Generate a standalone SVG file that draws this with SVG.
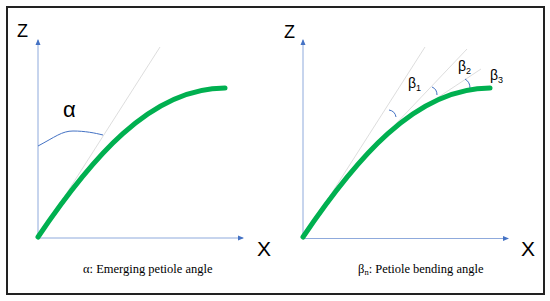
<svg xmlns="http://www.w3.org/2000/svg" width="550" height="301" viewBox="0 0 550 301">
<style>
.axis{stroke:#8FAADC;stroke-width:1;fill:none}
.tan{stroke:#d4d4d4;stroke-width:0.8;fill:none}
.leaf{stroke:#00B050;stroke-width:5;fill:none;stroke-linecap:round}
.ang{stroke:#4472C4;stroke-width:1;fill:none}
.lbl{font-family:"Liberation Sans",Arial,sans-serif;fill:#000}
.cap{font-family:"Liberation Serif","Times New Roman",serif;font-size:12.5px;fill:#000}
</style>
<defs>
<marker id="arr" viewBox="0 0 6 6" refX="5" refY="3" markerWidth="6" markerHeight="6" markerUnits="userSpaceOnUse" orient="auto">
<path d="M0,0.5 L6,3 L0,5.5 Z" fill="#4472C4"/>
</marker>
</defs>
<rect x="7" y="7" width="537" height="287" fill="#fff" stroke="#222" stroke-width="2"/>
<g id="panel-left">
<g id="axes-left">
<line class="axis" x1="38" y1="238" x2="38" y2="40" marker-end="url(#arr)"/>
<line class="axis" x1="38" y1="238" x2="243" y2="238" marker-end="url(#arr)"/>
</g>
<line class="tan" x1="38" y1="238" x2="160" y2="47"/>
<path class="ang" d="M38,146 C55,137 62,131 73,131 C85,131 95,133 103,135"/>
<path class="leaf" d="M38,237 C90,160 150,88 225,88"/>
<text class="lbl" x="17" y="37" font-size="18">Z</text>
<text class="lbl" x="257" y="256" font-size="21">X</text>
<text class="lbl" x="63" y="117" font-size="22">α</text>
<text class="cap" x="83" y="273">α: Emerging petiole angle</text>
</g>
<g id="panel-right">
<g id="axes-right">
<line class="axis" x1="303" y1="238.5" x2="303" y2="40" marker-end="url(#arr)"/>
<line class="axis" x1="303" y1="238.5" x2="508" y2="238.5" marker-end="url(#arr)"/>
</g>
<line class="tan" x1="303" y1="238" x2="425" y2="47"/>
<line class="tan" x1="370" y1="151" x2="467" y2="49"/>
<line class="tan" x1="416" y1="112" x2="481" y2="69"/>
<path class="ang" d="M389,110 Q395,111 396,117"/>
<path class="ang" d="M432,87 Q437,89 437,95"/>
<path class="ang" d="M465,79 Q470,82 470,88"/>
<path class="leaf" d="M303,237 C355,160 415,88 490,88"/>
<text class="lbl" x="284" y="37.5" font-size="18">Z</text>
<text class="lbl" x="521" y="256" font-size="21">X</text>
<text class="lbl" x="408" y="88" font-size="14">β<tspan font-size="9" dy="3">1</tspan></text>
<text class="lbl" x="458" y="71" font-size="14">β<tspan font-size="9" dy="3">2</tspan></text>
<text class="lbl" x="490" y="80" font-size="14">β<tspan font-size="9" dy="3">3</tspan></text>
<text class="cap" x="358" y="273">β<tspan font-size="8.5" dy="2">n</tspan><tspan dy="-2">: Petiole bending angle</tspan></text>
</g>
</svg>
